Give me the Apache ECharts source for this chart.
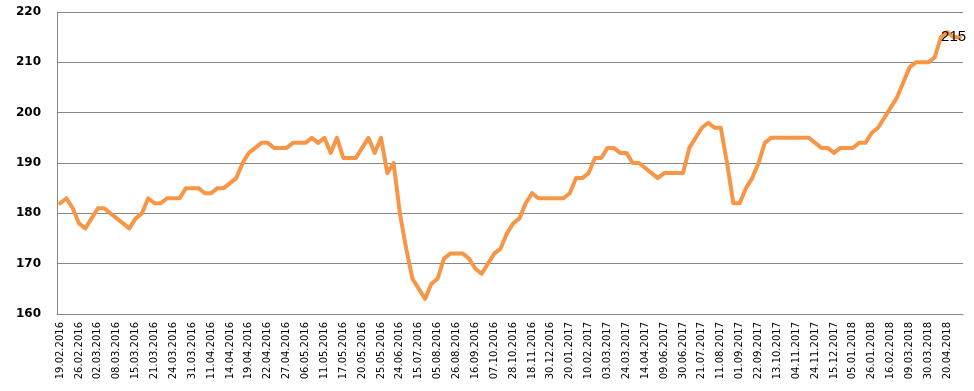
<!DOCTYPE html>
<html>
<head>
<meta charset="utf-8">
<script src="https://cdn.jsdelivr.net/npm/echarts@6/dist/echarts.min.js"></script>
<style>
  html, body { margin: 0; padding: 0; background: #ffffff; }
  #chart { width: 974px; height: 391px; }
</style>
</head>
<body>
<div id="chart"></div>
<script>
// Tick labels shown on the x axis (every 3rd observation)
const tickLabels = [
  '19.02.2016','26.02.2016','02.03.2016','08.03.2016','15.03.2016','21.03.2016',
  '24.03.2016','31.03.2016','11.04.2016','14.04.2016','19.04.2016','22.04.2016',
  '27.04.2016','06.05.2016','11.05.2016','17.05.2016','20.05.2016','25.05.2016',
  '24.06.2016','15.07.2016','05.08.2016','26.08.2016','16.09.2016','07.10.2016',
  '28.10.2016','18.11.2016','30.12.2016','20.01.2017','10.02.2017','03.03.2017',
  '24.03.2017','14.04.2017','09.06.2017','30.06.2017','21.07.2017','11.08.2017',
  '01.09.2017','22.09.2017','13.10.2017','04.11.2017','24.11.2017','15.12.2017',
  '05.01.2018','26.01.2018','16.02.2018','09.03.2018','30.03.2018','20.04.2018'
];

// Series values (one per observation)
const values = [
  182,183,181,178,177,179,181,181,180,179,178,177,179,180,183,182,182,183,183,183,
  185,185,185,184,184,185,185,186,187,190,192,193,194,194,193,193,193,194,194,194,
  195,194,195,192,195,191,191,191,193,195,192,195,188,190,180,173,167,165,163,166,
  167,171,172,172,172,171,169,168,170,172,173,176,178,179,182,184,183,183,183,183,
  183,184,187,187,188,191,191,193,193,192,192,190,190,189,188,187,188,188,188,188,
  193,195,197,198,197,197,190,182,182,185,187,190,194,195,195,195,195,195,195,195,
  194,193,193,192,193,193,193,194,194,196,197,199,201,203,206,209,210,210,210,211,
  215,216,215,215
];

const labelIndex = 142;

const yTicks = { min: 160, max: 220, interval: 10 };

const categories = values.map((v, i) => String(i));
const seriesData = values.map((v, i) => i === labelIndex
  ? { value: v, label: { show: true } }
  : v);

const chart = echarts.init(document.getElementById('chart'), null, { renderer: 'canvas' });
chart.setOption({
  animation: false,
  backgroundColor: '#ffffff',
  grid: { left: 57, right: 11, top: 12, bottom: 77, containLabel: false, outerBoundsMode: 'none' },
  xAxis: {
    type: 'category',
    data: categories,
    boundaryGap: true,
    axisLine: { show: true, lineStyle: { color: '#868686', width: 1 } },
    axisTick: { show: false },
    splitLine: { show: false },
    axisLabel: {
      interval: 2,
      rotate: 90,
      margin: 8,
      fontFamily: 'DejaVu Sans',
      fontSize: 10,
      color: '#000000',
      formatter: (v, i) => tickLabels[Math.round(i / 3)] || ''
    }
  },
  yAxis: {
    type: 'value',
    min: yTicks.min,
    max: yTicks.max,
    interval: yTicks.interval,
    axisLine: { show: true, lineStyle: { color: '#868686', width: 1 } },
    axisTick: { show: false },
    splitLine: { show: true, lineStyle: { color: '#868686', width: 1 } },
    axisLabel: {
      margin: 16,
      fontFamily: 'DejaVu Sans',
      fontWeight: 'bold',
      fontSize: 12,
      color: '#000000'
    }
  },
  series: [{
    type: 'line',
    data: seriesData,
    symbol: 'circle',
    symbolSize: 2,
    showSymbol: true,
    showAllSymbol: true,
    smooth: false,
    lineStyle: { color: '#F79646', width: 4, join: 'round', cap: 'round' },
    itemStyle: { color: '#F79646', borderWidth: 0 },
    label: {
      show: false,
      position: 'inside',
      fontFamily: 'Liberation Sans',
      fontSize: 15,
      color: '#000000'
    },
    z: 2,
    emphasis: { disabled: true }
  }]
});
</script>
</body>
</html>
